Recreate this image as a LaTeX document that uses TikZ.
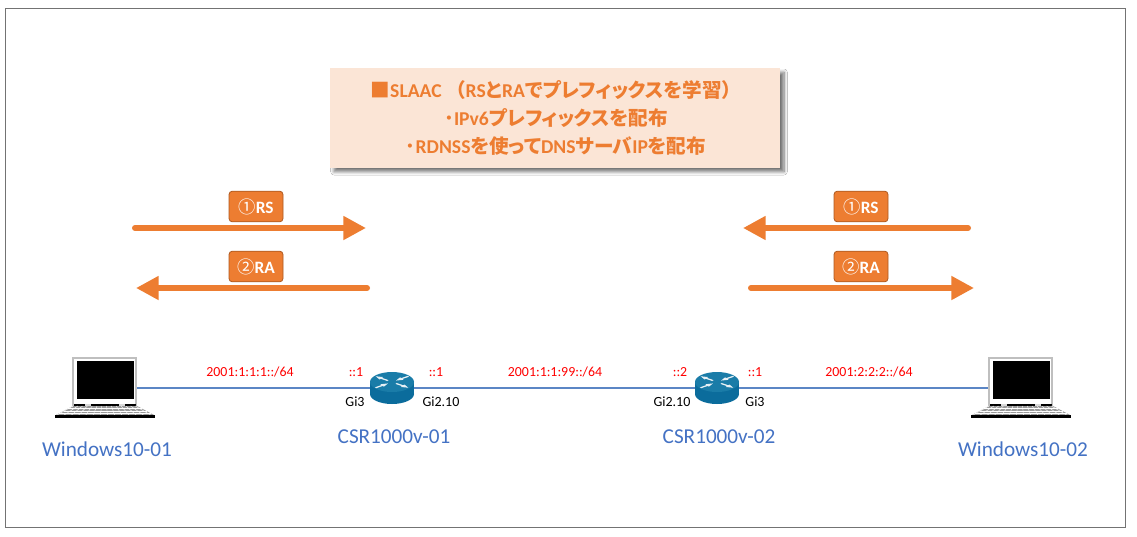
\documentclass[tikz,border=0pt]{standalone}
\usepackage{fontspec}
\setmainfont{Carlito}
\newfontfamily\cjk{Noto Sans CJK JP}
\newfontfamily\cjkp[RawFeature=+palt]{Noto Sans CJK JP}
\usetikzlibrary{arrows.meta,shadows.blur,calc}
\definecolor{org}{HTML}{ED7D31}
\definecolor{orgd}{HTML}{AE5A21}
\definecolor{peach}{HTML}{FBE5D6}
\definecolor{blu}{HTML}{4472C4}
\definecolor{lnk}{HTML}{5B86C5}
\definecolor{rtr}{HTML}{0B6C9C}
\definecolor{rtrt}{HTML}{1A7CA8}
\tikzset{
 x=0.75pt,y=-0.75pt,
 frame/.style={draw=black!55,line width=0.6pt},
 link/.style={draw=lnk,line width=1.3pt},
 flow/.style={draw=org,line width=4.5pt,line cap=round,-{Triangle[length=17pt,width=17pt]}},
 tag/.style={draw=orgd,fill=org,rounded corners=2.5pt,line width=0.6pt,minimum width=40.5pt,minimum height=23pt,inner sep=0pt,text=white,font=\fontsize{13pt}{14pt}\selectfont\bfseries},
 addr/.style={text=red,font=\fontsize{10.4pt}{11pt}\selectfont,inner sep=0pt},
 port/.style={text=black,font=\fontsize{10.5pt}{11pt}\selectfont,inner sep=0pt},
 devname/.style={text=blu,font=\fontsize{15.9pt}{17pt}\selectfont,inner sep=0pt},
 head/.style={text=org,align=center,font=\fontsize{14.7pt}{21pt}\selectfont\bfseries,inner sep=0pt},
 devbox/.style={inner sep=0pt,minimum width=0pt,minimum height=0pt},
 pics/laptop/.style={code={
   \draw[black!25,fill=white,line width=0.8pt] (-32,-30) rectangle (31,17);
   \fill[black] (-28.5,-27) rectangle (28.5,11);
   \fill[black] (-31,15.5) rectangle (31,18);
   \fill[white!85!black] (-20,15.5) rectangle (-14,18);
   \fill[white!85!black] (14,15.5) rectangle (20,18);
   \fill[black!40] (-32,18) -- (32,18) -- (49,27) -- (-49,27) -- cycle;
   \foreach \a/\b in {20.5/37,23/41.5,25.5/46}{\draw[white,line width=0.3pt] (-\b,\a) -- (\b,\a);}
   \foreach \a in {-40,-34,...,40}{\draw[white,line width=0.3pt] (\a*0.8,18) -- (\a*1.2,27);}
   \fill[black] (-50,27) rectangle (50,29.5);
 }},
 pics/router/.style={code={
   \fill[rtr] (-22,0) rectangle (22,12);
   \fill[rtr] (0,12) ellipse (22 and 10);
   \fill[rtrt] (0,0) ellipse (22 and 10);
   \foreach \r/\f in {145/0,35/1,215/1,325/0}{
     \begin{scope}[yscale=0.5,rotate=\r]
       \ifnum\f=0
       \fill[white!90!rtr] (20,0) -- (13,-3) -- (13,-1.1) -- (5,-1.1) -- (5,1.1) -- (13,1.1) -- (13,3) -- cycle;
       \else
       \fill[white!90!rtr] (5,0) -- (12,-3) -- (12,-1.1) -- (20,-1.1) -- (20,1.1) -- (12,1.1) -- (12,3) -- cycle;
       \fi
     \end{scope}}
 }}
}
\begin{document}
\begin{tikzpicture}
\useasboundingbox (0,0) rectangle (1137,536);
\fill[white] (0,0) rectangle (1137,536);
\draw[frame] (5,8) rectangle (1125,527);

\node[fill=peach,minimum width=337.5pt,minimum height=74.5pt,inner sep=0pt,
  blur shadow={shadow xshift=3pt,shadow yshift=-3pt,shadow blur radius=2.5pt,shadow blur steps=8,shadow opacity=55}] (panel) at (555,118) {};
\node[head] (paneltext) at (556,118) {{\cjk ■}SLAAC\ {\cjk （}RS{\cjkp と}RA{\cjkp でプレフィックスを学習}{\cjk ）}\\
{\cjk ･}IPv6{\cjkp プレフィックスを配布}\\
{\cjk ･}RDNSS{\cjkp を使って}DNS{\cjkp サーバ}IP{\cjkp を配布}};

% flows
\coordinate (a1s) at (135,228); \coordinate (a1e) at (366,228);
\coordinate (a2s) at (367,288); \coordinate (a2e) at (136,288);
\coordinate (a3s) at (968,228); \coordinate (a3e) at (743,228);
\coordinate (a4s) at (751,288); \coordinate (a4e) at (974,288);
\draw[flow] (a1s) -- (a1e);
\draw[flow] (a2s) -- (a2e);
\draw[flow] (a3s) -- (a3e);
\draw[flow] (a4s) -- (a4e);
\node[tag] (t1) at (256,206.5) {{\cjk\mdseries ①}RS};
\node[tag] (t2) at (256,266.5) {{\cjk\mdseries ②}RA};
\node[tag] (t3) at (861,206.5) {{\cjk\mdseries ①}RS};
\node[tag] (t4) at (861,266.5) {{\cjk\mdseries ②}RA};

% devices
\node[devbox] (pc1) at (105,388) {};
\node[devbox] (r1) at (392,382) {};
\node[devbox] (r2) at (717,382) {};
\node[devbox] (pc2) at (1021,388) {};
\coordinate (pc1e) at (136,388);
\coordinate (pc2e) at (990,388);
\coordinate (r1c) at (392,388);
\coordinate (r2c) at (717,388);
\draw[link] (pc1e) -- (r1c);
\draw[link] (r1c) -- (r2c);
\draw[link] (r2c) -- (pc2e);
\pic at (pc1) {laptop};
\pic at (pc2) {laptop};
\pic at (r1) {router};
\pic at (r2) {router};

\node[devname] (n1) at (107,449) {Windows10-01};
\node[devname] (n2) at (394,437) {CSR1000v-01};
\node[devname] (n3) at (719,437) {CSR1000v-02};
\node[devname] (n4) at (1023,449) {Windows10-02};

\node[addr] (l1) at (250,372) {2001:1:1:1::/64};
\node[addr] (l2) at (356,372) {::1};
\node[addr] (l3) at (436,372) {::1};
\node[addr] (l4) at (555,372) {2001:1:1:99::/64};
\node[addr] (l5) at (680,372) {::2};
\node[addr] (l6) at (755,372) {::1};
\node[addr] (l7) at (869,372) {2001:2:2:2::/64};

\node[port] (p1) at (355,402) {Gi3};
\node[port] (p2) at (441,402) {Gi2.10};
\node[port] (p3) at (672,402) {Gi2.10};
\node[port] (p4) at (755,402) {Gi3};
\end{tikzpicture}
\end{document}
